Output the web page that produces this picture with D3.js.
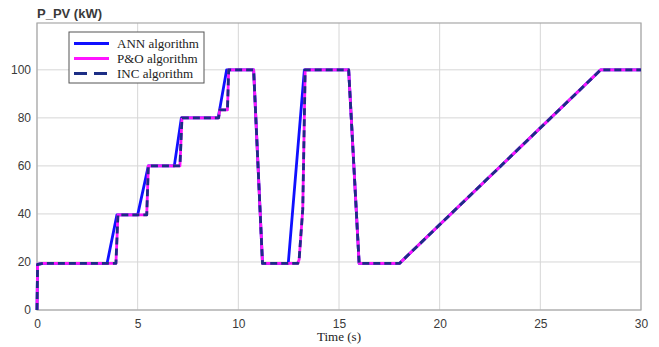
<!DOCTYPE html>
<html>
<head>
<meta charset="utf-8">
<script src="https://cdn.jsdelivr.net/npm/d3@7"></script>
<style>
  body { margin: 0; background: #fff; }
  svg { display: block; }
</style>
</head>
<body>
<div id="chart"></div>
<script>
// time (s) and power (kW)
const annTime = [0, 0.03, 0.3, 3.48, 3.97, 5.0, 5.53, 6.82, 7.17, 9.0, 9.42, 10.76, 11.2, 12.48, 13.28, 15.48, 16.0, 18.0, 28.0, 30];
const annPower = [0, 19, 19.4, 19.4, 39.6, 39.6, 60, 60, 80, 80, 100, 100, 19.4, 19.4, 100, 100, 19.4, 19.4, 100, 100];

const poTime = [0, 0.03, 0.3, 3.92, 4.02, 5.45, 5.53, 7.1, 7.2, 9.02, 9.08, 9.46, 9.52, 10.76, 11.2, 12.95, 13.02, 13.2, 13.32, 15.48, 16.0, 18.0, 28.0, 30];
const poPower = [0, 19, 19.4, 19.4, 39.6, 39.6, 60, 60, 80, 80, 83.3, 83.3, 100, 100, 19.4, 19.4, 21, 42, 100, 100, 19.4, 19.4, 100, 100];

const incTime = [0, 0.03, 0.3, 3.92, 4.02, 5.45, 5.53, 7.1, 7.2, 9.02, 9.08, 9.46, 9.52, 10.76, 11.2, 12.95, 13.02, 13.2, 13.32, 15.48, 16.0, 18.0, 28.0, 30];
const incPower = [0, 19, 19.4, 19.4, 39.6, 39.6, 60, 60, 80, 80, 83.3, 83.3, 100, 100, 19.4, 19.4, 21, 42, 100, 100, 19.4, 19.4, 100, 100];

const xTicks = [0, 5, 10, 15, 20, 25, 30];
const yTicks = [0, 20, 40, 60, 80, 100];
const seriesNames = ["ANN algorithm", "P&O algorithm", "INC algorithm"];

const width = 659, height = 347;
const plotLeft = 37, plotRight = 641, plotTop = 23, plotBottom = 310;

const svg = d3.select("#chart").append("svg")
  .attr("width", width)
  .attr("height", height);

svg.append("rect").attr("width", width).attr("height", height).attr("fill", "#fff");

const x = d3.scaleLinear().domain([0, 30]).range([plotLeft, plotRight]);
const y = d3.scaleLinear().domain([0, 119.5]).range([plotBottom, plotTop]);

// grid
svg.append("g")
  .selectAll("line")
  .data(xTicks)
  .enter()
  .append("line")
  .attr("x1", (d) => x(d)).attr("x2", (d) => x(d))
  .attr("y1", plotTop).attr("y2", plotBottom)
  .attr("stroke", "#d6d6d6").attr("stroke-width", 1);

svg.append("g")
  .selectAll("line")
  .data(yTicks)
  .enter()
  .append("line")
  .attr("x1", plotLeft).attr("x2", plotRight)
  .attr("y1", (d) => y(d)).attr("y2", (d) => y(d))
  .attr("stroke", "#d6d6d6").attr("stroke-width", 1);

// axes
const xAxis = d3.axisBottom(x).tickValues(xTicks).tickSize(0).tickPadding(9);
const yAxis = d3.axisLeft(y).tickValues(yTicks).tickSize(0).tickPadding(6);

svg.append("g")
  .attr("transform", "translate(0," + plotBottom + ")")
  .call(xAxis)
  .call((g) => g.select(".domain").remove())
  .selectAll("text")
  .attr("font-family", "Liberation Sans, Arial, sans-serif")
  .attr("font-size", 12)
  .attr("fill", "#3a3a3a");

svg.append("g")
  .attr("transform", "translate(" + plotLeft + ",0)")
  .call(yAxis)
  .call((g) => g.select(".domain").remove())
  .selectAll("text")
  .attr("font-family", "Liberation Sans, Arial, sans-serif")
  .attr("font-size", 12)
  .attr("fill", "#3a3a3a");

// plot box
svg.append("rect")
  .attr("x", plotLeft).attr("y", plotTop)
  .attr("width", plotRight - plotLeft).attr("height", plotBottom - plotTop)
  .attr("fill", "none")
  .attr("stroke", "#a8a8a8")
  .attr("stroke-width", 1.2);

// lines
const line = d3.line()
  .x((d) => x(d[0]))
  .y((d) => y(d[1]));

const series = [
  { pts: d3.zip(annTime, annPower), color: "#1010ff", dash: null },
  { pts: d3.zip(poTime, poPower), color: "#ff14ff", dash: null },
  { pts: d3.zip(incTime, incPower), color: "#1c2e85", dash: "7,4" }
];

series.forEach((s) => {
  svg.append("path")
    .datum(s.pts)
    .attr("d", line)
    .attr("fill", "none")
    .attr("stroke", s.color)
    .attr("stroke-width", 2.8)
    .attr("stroke-linejoin", "round")
    .attr("stroke-dasharray", s.dash);
});

// title and x label
svg.append("text")
  .attr("x", plotLeft)
  .attr("y", 18)
  .attr("font-family", "Liberation Sans, Arial, sans-serif")
  .attr("font-size", 13)
  .attr("font-weight", "bold")
  .attr("fill", "#3a3a3a")
  .text("P_PV (kW)");

svg.append("text")
  .attr("x", x(15))
  .attr("y", 341)
  .attr("text-anchor", "middle")
  .attr("font-family", "Liberation Serif, Times New Roman, serif")
  .attr("font-size", 13)
  .attr("fill", "#222")
  .text("Time (s)");

// legend
const legend = svg.append("g").attr("transform", "translate(69,32)");
legend.append("rect")
  .attr("width", 135).attr("height", 51)
  .attr("fill", "#fff")
  .attr("stroke", "#555")
  .attr("stroke-width", 1);

const legendRow = d3.scaleBand().domain(seriesNames).range([4, 49]);

seriesNames.forEach((name, i) => {
  const cy = legendRow(name) + legendRow.bandwidth() / 2;
  legend.append("line")
    .attr("x1", 5).attr("x2", 40)
    .attr("y1", cy).attr("y2", cy)
    .attr("stroke", series[i].color)
    .attr("stroke-width", 2.8)
    .attr("stroke-dasharray", i === 2 ? "13,7" : null);
  legend.append("text")
    .attr("x", 48)
    .attr("y", cy)
    .attr("dy", "0.35em")
    .attr("font-family", "Liberation Serif, Times New Roman, serif")
    .attr("font-size", 13)
    .attr("fill", "#222")
    .text(name);
});
</script>
</body>
</html>
